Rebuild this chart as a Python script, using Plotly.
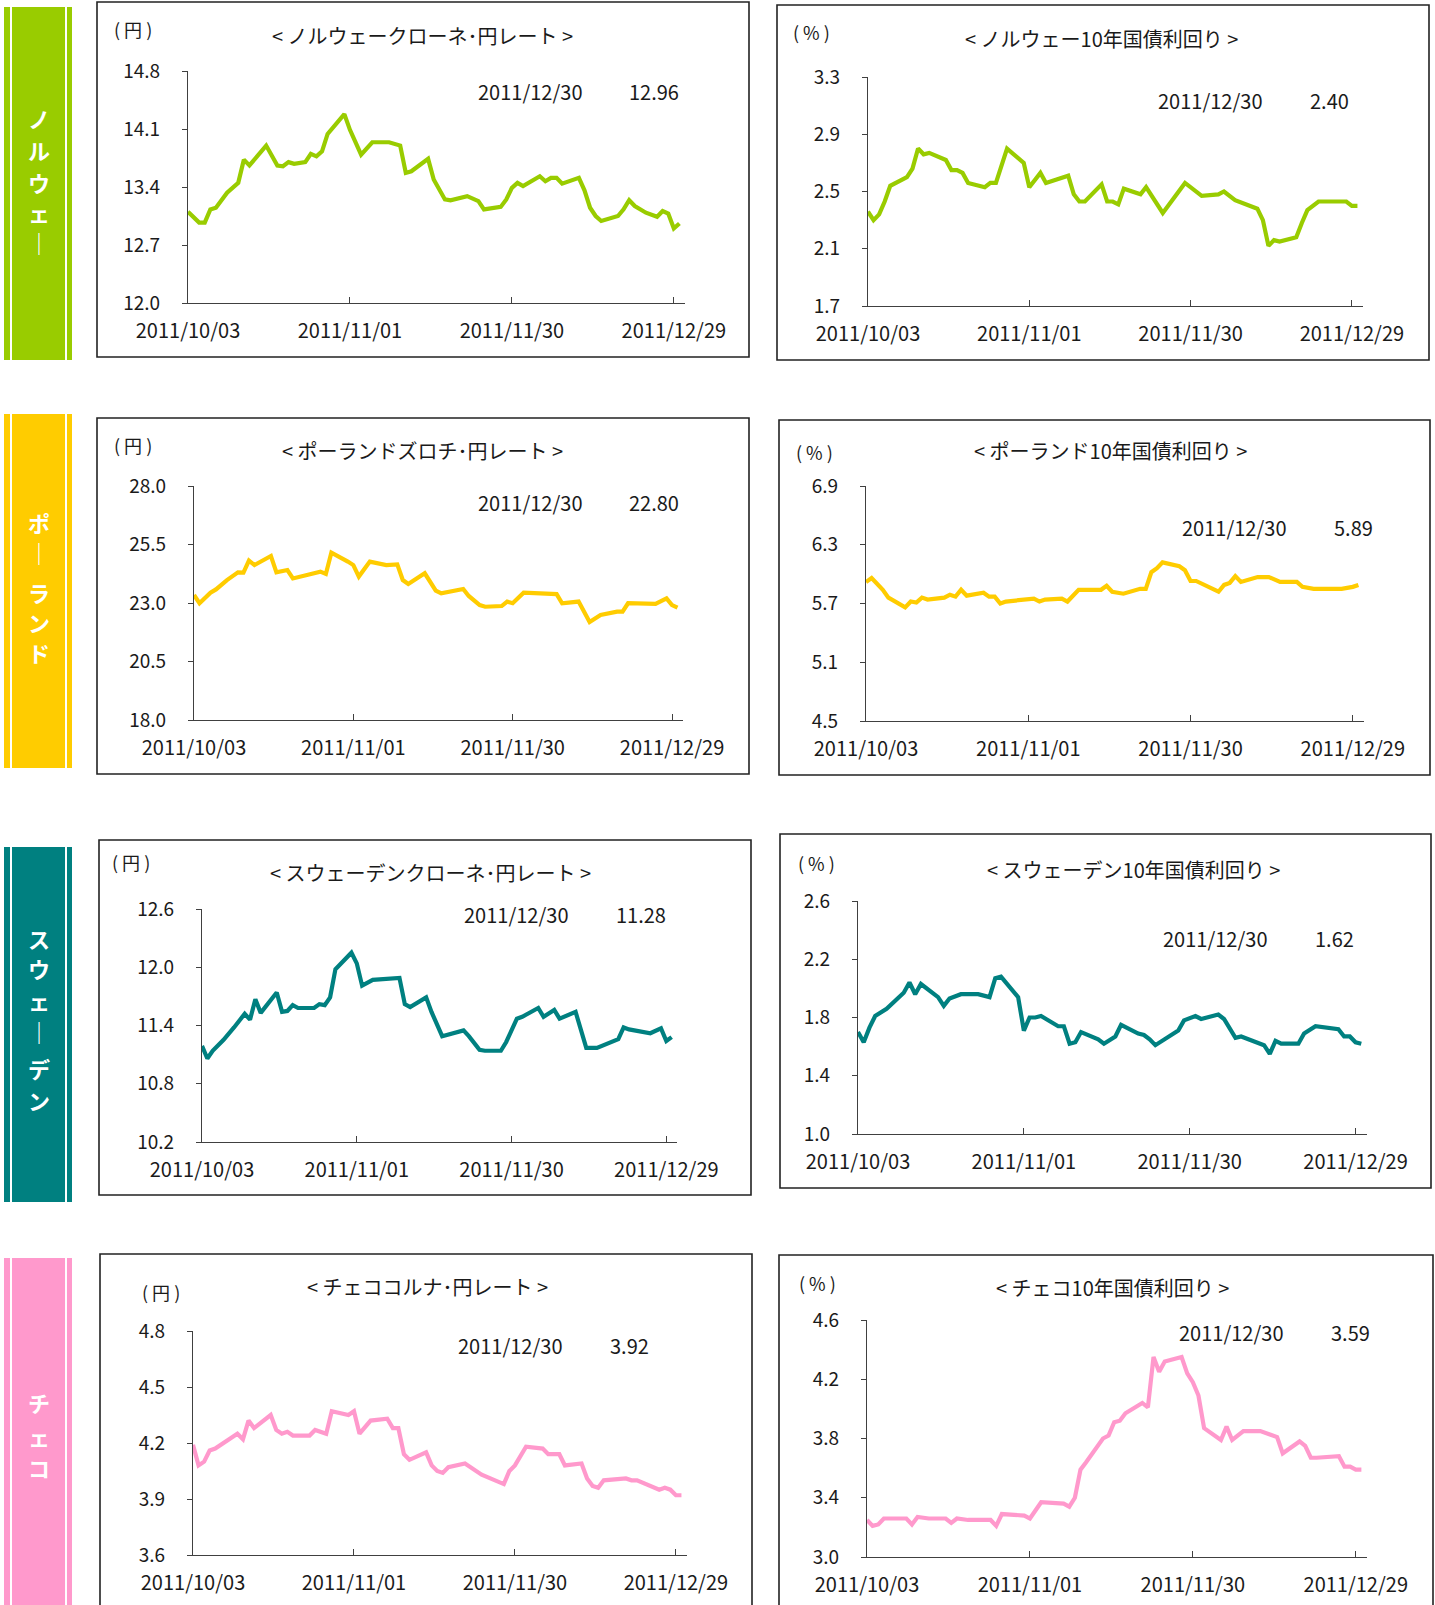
import pandas as pd
import plotly.graph_objects as go

# ── Page / theme ────────────────────────────────────────────────────────────
W, H = 1435, 1605
FONT = "Noto Sans CJK JP"
TXT_CLR = "#1a1a1a"
AXIS_CLR = "#404040"
GREEN, YELLOW, TEAL, PINK = "#99CC00", "#FFCC00", "#008080", "#FF99CC"

START = pd.Timestamp("2011-10-03")
END = pd.Timestamp("2011-12-31")
TICK_DATES = ["2011-10-03", "2011-11-01", "2011-11-30", "2011-12-29"]
TICK_TEXT = ["2011/10/03", "2011/11/01", "2011/11/30", "2011/12/29"]
LAST_DATE = "2011/12/30"

# ── Data (x = days since 2011/10/03) ────────────────────────────────────────
NOK_DAYS = [0, 2, 3, 4, 5, 7, 9, 10, 11, 14, 16, 17, 18, 19, 21, 22, 23, 24, 25, 28,
            29, 31, 33, 36, 38, 39, 40, 43, 44, 46, 47, 50, 52, 53, 56, 57, 58, 59, 60, 63,
            64, 65, 66, 67, 70, 71, 72, 73, 74, 77, 78, 79, 80, 82, 84, 85, 86, 87, 88]
NOK_JPY = [13.10, 12.97, 12.97, 13.13, 13.15, 13.33, 13.45, 13.73, 13.66, 13.90,
           13.66, 13.65, 13.70, 13.68, 13.70, 13.80, 13.77, 13.83, 14.04, 14.28,
           14.09, 13.79, 13.94, 13.94, 13.90, 13.57, 13.59, 13.74, 13.49, 13.25,
           13.24, 13.29, 13.23, 13.13, 13.16, 13.25, 13.39, 13.45, 13.41, 13.53,
           13.47, 13.51, 13.51, 13.44, 13.51, 13.36, 13.15, 13.05, 12.99, 13.05,
           13.13, 13.24, 13.17, 13.09, 13.04, 13.11, 13.08, 12.90, 12.96]
NOK_JPY_TICKS = [12.0, 12.7, 13.4, 14.1, 14.8]

NOR_BOND_DAYS = [0, 1, 2, 3, 4, 7, 8, 9, 10, 11, 14, 15, 16, 17, 18, 21, 22, 23, 25, 28,
                 29, 31, 32, 36, 37, 38, 39, 42, 43, 44, 45, 46, 49, 50, 53, 57, 60, 63, 64, 66,
                 70, 71, 72, 73, 74, 77, 78, 79, 81, 84, 86, 87, 88]
NOR_BOND = [2.36, 2.30, 2.34, 2.43, 2.54, 2.60, 2.66, 2.80, 2.76, 2.77,
            2.72, 2.65, 2.65, 2.63, 2.56, 2.53, 2.56, 2.56, 2.80, 2.70,
            2.53, 2.63, 2.56, 2.61, 2.48, 2.43, 2.43, 2.55, 2.43, 2.43,
            2.41, 2.52, 2.48, 2.53, 2.35, 2.56, 2.47, 2.48, 2.50, 2.44,
            2.38, 2.30, 2.12, 2.16, 2.15, 2.18, 2.28, 2.37, 2.43, 2.43,
            2.43, 2.40, 2.40]
NOR_BOND_TICKS = [1.7, 2.1, 2.5, 2.9, 3.3]

PLN_DAYS = [0, 1, 3, 4, 6, 8, 9, 10, 11, 14, 15, 17, 18, 22, 23, 24, 25, 28, 29, 30,
            32, 35, 37, 38, 39, 42, 44, 45, 49, 50, 52, 53, 56, 57, 58, 60, 66, 67, 70, 72,
            74, 77, 78, 79, 84, 86, 87, 88]
PLN_JPY = [23.34, 22.99, 23.44, 23.58, 23.98, 24.31, 24.30, 24.81, 24.62, 25.01,
           24.31, 24.41, 24.05, 24.27, 24.34, 24.24, 25.15, 24.77, 24.62, 24.13,
           24.77, 24.62, 24.65, 23.98, 23.81, 24.27, 23.53, 23.41, 23.60, 23.30,
           22.91, 22.84, 22.87, 23.06, 22.99, 23.44, 23.38, 22.99, 23.06, 22.19,
           22.49, 22.63, 22.63, 22.99, 22.96, 23.20, 22.91, 22.80]
PLN_JPY_TICKS = [18.0, 20.5, 23.0, 25.5, 28.0]

POL_BOND_DAYS = [0, 1, 3, 4, 7, 8, 9, 10, 11, 14, 15, 16, 17, 18, 21, 22, 23, 24, 25, 30,
                 31, 32, 35, 36, 38, 42, 43, 44, 46, 49, 50, 51, 52, 53, 56, 57, 58, 59, 63, 64,
                 65, 66, 67, 70, 72, 74, 77, 78, 80, 85, 87, 88]
POL_BOND = [5.92, 5.96, 5.84, 5.76, 5.66, 5.72, 5.71, 5.76, 5.74, 5.76,
            5.79, 5.77, 5.84, 5.78, 5.81, 5.77, 5.77, 5.70, 5.72, 5.75,
            5.72, 5.74, 5.75, 5.72, 5.84, 5.84, 5.88, 5.82, 5.80, 5.85,
            5.85, 6.02, 6.06, 6.12, 6.08, 6.04, 5.93, 5.93, 5.82, 5.89,
            5.91, 5.98, 5.92, 5.97, 5.97, 5.92, 5.92, 5.87, 5.85, 5.85,
            5.87, 5.89]
POL_BOND_TICKS = [4.5, 5.1, 5.7, 6.3, 6.9]

SEK_DAYS = [0, 1, 2, 4, 6, 8, 9, 10, 11, 14, 15, 16, 17, 18, 21, 22, 23, 24, 25, 28,
            29, 30, 32, 37, 38, 39, 42, 43, 45, 47, 49, 50, 52, 53, 56, 57, 59, 60, 63, 64,
            66, 67, 70, 72, 74, 78, 79, 80, 84, 86, 87, 88]
SEK_JPY = [11.19, 11.06, 11.14, 11.25, 11.38, 11.52, 11.46, 11.67, 11.53, 11.74,
           11.54, 11.55, 11.61, 11.58, 11.58, 11.62, 11.61, 11.69, 11.98, 12.15,
           12.04, 11.81, 11.87, 11.89, 11.62, 11.59, 11.69, 11.54, 11.29, 11.32,
           11.35, 11.29, 11.15, 11.14, 11.14, 11.23, 11.47, 11.49, 11.58, 11.49,
           11.56, 11.47, 11.54, 11.17, 11.17, 11.26, 11.38, 11.36, 11.32, 11.37,
           11.24, 11.28]
SEK_JPY_TICKS = [10.2, 10.8, 11.4, 12.0, 12.6]

SWE_BOND_DAYS = [0, 1, 2, 3, 5, 8, 9, 10, 11, 14, 15, 16, 18, 21, 23, 24, 25, 28, 29, 30,
                 31, 32, 35, 36, 37, 38, 39, 42, 43, 45, 46, 49, 50, 51, 52, 56, 57, 59, 60, 63,
                 64, 66, 67, 70, 71, 72, 73, 74, 77, 78, 80, 84, 85, 86, 87, 88]
SWE_BOND = [1.70, 1.63, 1.73, 1.81, 1.86, 1.97, 2.04, 1.96, 2.03, 1.94,
            1.88, 1.93, 1.96, 1.96, 1.94, 2.07, 2.08, 1.94, 1.71, 1.80,
            1.80, 1.81, 1.74, 1.74, 1.62, 1.63, 1.70, 1.65, 1.62, 1.67,
            1.75, 1.69, 1.68, 1.65, 1.61, 1.71, 1.78, 1.81, 1.79, 1.82,
            1.79, 1.66, 1.67, 1.62, 1.61, 1.55, 1.64, 1.62, 1.62, 1.69,
            1.74, 1.72, 1.67, 1.67, 1.63, 1.62]
SWE_BOND_TICKS = [1.0, 1.4, 1.8, 2.2, 2.6]

CZK_DAYS = [0, 1, 2, 3, 4, 8, 9, 10, 11, 14, 15, 16, 17, 18, 21, 22, 24, 25, 28, 29,
            30, 32, 35, 36, 37, 38, 39, 42, 43, 44, 45, 46, 49, 52, 56, 57, 58, 60, 63, 64,
            66, 67, 70, 71, 72, 73, 74, 77, 78, 79, 80, 84, 85, 86, 87, 88]
CZK_JPY = [4.19, 4.08, 4.10, 4.16, 4.17, 4.25, 4.22, 4.32, 4.28, 4.35,
           4.27, 4.25, 4.26, 4.24, 4.24, 4.27, 4.25, 4.37, 4.35, 4.37,
           4.25, 4.32, 4.33, 4.28, 4.28, 4.14, 4.11, 4.15, 4.08, 4.05,
           4.04, 4.07, 4.09, 4.03, 3.98, 4.05, 4.08, 4.18, 4.17, 4.14,
           4.14, 4.08, 4.09, 4.01, 3.97, 3.96, 4.00, 4.01, 4.01, 4.00,
           4.00, 3.95, 3.96, 3.95, 3.92, 3.92]
CZK_JPY_TICKS = [3.6, 3.9, 4.2, 4.5, 4.8]

CZE_BOND_DAYS = [0, 1, 2, 3, 7, 8, 9, 11, 14, 15, 16, 18, 22, 23, 24, 28, 29, 31, 35, 36,
                 37, 38, 39, 42, 43, 44, 45, 46, 49, 50, 51, 52, 53, 56, 57, 58, 59, 60, 63, 64,
                 65, 67, 70, 72, 73, 74, 77, 78, 79, 80, 84, 85, 86, 87, 88]
CZE_BOND = [3.25, 3.21, 3.22, 3.26, 3.26, 3.22, 3.27, 3.26, 3.26, 3.23,
            3.26, 3.25, 3.25, 3.21, 3.29, 3.28, 3.26, 3.37, 3.36, 3.34,
            3.40, 3.59, 3.64, 3.80, 3.82, 3.91, 3.92, 3.97, 4.04, 4.01,
            4.35, 4.25, 4.32, 4.35, 4.24, 4.18, 4.09, 3.87, 3.79, 3.88,
            3.79, 3.85, 3.85, 3.82, 3.81, 3.70, 3.78, 3.75, 3.67, 3.67,
            3.68, 3.61, 3.61, 3.59, 3.59]
CZE_BOND_TICKS = [3.0, 3.4, 3.8, 4.2, 4.6]


# ── Layout helpers (pixel -> paper) ─────────────────────────────────────────
def fx(x):
    return x / W


def fy(y):
    return 1 - y / H


# box = panel frame, plot = axis area (x0, y0, x1, y1) in page pixels
PANELS = [
    dict(days=NOK_DAYS, vals=NOK_JPY, ticks=NOK_JPY_TICKS, color=GREEN, unit="( 円 )",
         title="< ノルウェークローネ･円レート >", last="12.96",
         box=(97, 2, 749, 357), plot=(188, 71, 685, 303),
         unit_xy=(133, 29), title_xy=(423, 35), ann_y=91, date_x=476, val_x=627),
    dict(days=NOR_BOND_DAYS, vals=NOR_BOND, ticks=NOR_BOND_TICKS, color=GREEN, unit="( % )",
         title="< ノルウェー10年国債利回り >", last="2.40",
         box=(777, 5, 1429, 360), plot=(868, 77, 1363, 306),
         unit_xy=(812, 32), title_xy=(1101, 39), ann_y=101, date_x=1156, val_x=1308),
    dict(days=PLN_DAYS, vals=PLN_JPY, ticks=PLN_JPY_TICKS, color=YELLOW, unit="( 円 )",
         title="< ポーランドズロチ･円レート >", last="22.80",
         box=(97, 418, 749, 774), plot=(194, 486, 683, 720),
         unit_xy=(133, 445), title_xy=(423, 451), ann_y=502, date_x=476, val_x=627),
    dict(days=POL_BOND_DAYS, vals=POL_BOND, ticks=POL_BOND_TICKS, color=YELLOW, unit="( % )",
         title="< ポーランド10年国債利回り >", last="5.89",
         box=(779, 420, 1430, 775), plot=(866, 486, 1364, 721),
         unit_xy=(814, 452), title_xy=(1110, 451), ann_y=527, date_x=1180, val_x=1332),
    dict(days=SEK_DAYS, vals=SEK_JPY, ticks=SEK_JPY_TICKS, color=TEAL, unit="( 円 )",
         title="< スウェーデンクローネ･円レート >", last="11.28",
         box=(99, 840, 751, 1195), plot=(202, 909, 677, 1142),
         unit_xy=(131, 862), title_xy=(430, 872), ann_y=914, date_x=462, val_x=614),
    dict(days=SWE_BOND_DAYS, vals=SWE_BOND, ticks=SWE_BOND_TICKS, color=TEAL, unit="( % )",
         title="< スウェーデン10年国債利回り >", last="1.62",
         box=(780, 834, 1431, 1188), plot=(858, 901, 1367, 1134),
         unit_xy=(816, 863), title_xy=(1133, 870), ann_y=938, date_x=1161, val_x=1313),
    dict(days=CZK_DAYS, vals=CZK_JPY, ticks=CZK_JPY_TICKS, color=PINK, unit="( 円 )",
         title="< チェココルナ･円レート >", last="3.92",
         box=(100, 1254, 752, 1650), plot=(193, 1331, 687, 1555),
         unit_xy=(161, 1292), title_xy=(427, 1286), ann_y=1345, date_x=456, val_x=608),
    dict(days=CZE_BOND_DAYS, vals=CZE_BOND, ticks=CZE_BOND_TICKS, color=PINK, unit="( % )",
         title="< チェコ10年国債利回り >", last="3.59",
         box=(779, 1255, 1433, 1650), plot=(867, 1320, 1367, 1557),
         unit_xy=(817, 1283), title_xy=(1112, 1287), ann_y=1332, date_x=1177, val_x=1329),
]

# side bands: colour, top, bottom, characters of the vertical label and their centre y
BANDS = [
    (GREEN, 7, 360, "ノルウェ｜", [118, 150, 182, 212, 242]),
    (YELLOW, 414, 768, "ポ｜ランド", [522, 552, 592, 622, 652]),
    (TEAL, 847, 1202, "スウェ｜デン", [938, 968, 1000, 1031, 1068, 1100]),
    (PINK, 1258, 1650, "チェコ", [1402, 1436, 1467]),
]

fig = go.Figure()
shapes, annotations = [], []
axes = {}

for i, p in enumerate(PANELS, start=1):
    sfx = "" if i == 1 else str(i)
    xs = [START + pd.Timedelta(days=d) for d in p["days"]]
    fig.add_trace(go.Scatter(
        x=xs, y=p["vals"], mode="lines",
        line=dict(color=p["color"], width=4.2),
        xaxis=f"x{sfx}", yaxis=f"y{sfx}",
        showlegend=False, hoverinfo="skip",
    ))
    x0, y0, x1, y1 = p["plot"]
    axes[f"xaxis{sfx}"] = dict(
        domain=[fx(x0), fx(x1)], anchor=f"y{sfx}", type="date",
        range=[START, END], tickvals=TICK_DATES, ticktext=TICK_TEXT,
        ticks="inside", ticklen=6, tickwidth=1, tickcolor=AXIS_CLR,
        showline=True, linecolor=AXIS_CLR, linewidth=1.2,
        showgrid=False, zeroline=False, ticklabelstandoff=10, automargin=False,
        tickfont=dict(size=20, color=TXT_CLR),
    )
    axes[f"yaxis{sfx}"] = dict(
        domain=[fy(y1), fy(y0)], anchor=f"x{sfx}",
        range=[p["ticks"][0], p["ticks"][-1]],
        tickvals=p["ticks"], ticktext=[f"{v:.1f}" for v in p["ticks"]],
        ticks="outside", ticklen=5, tickwidth=1, tickcolor=AXIS_CLR,
        showline=True, linecolor=AXIS_CLR, linewidth=1.2,
        showgrid=False, zeroline=False, ticklabelstandoff=18, automargin=False,
        tickfont=dict(size=19, color=TXT_CLR),
    )

    bx0, by0, bx1, by1 = p["box"]
    shapes.append(dict(type="rect", xref="paper", yref="paper",
                       x0=fx(bx0), x1=fx(bx1), y0=fy(by1), y1=fy(by0),
                       line=dict(color="#222222", width=1.6), fillcolor="rgba(0,0,0,0)"))

    ux, uy = p["unit_xy"]
    tx, ty = p["title_xy"]
    annotations += [
        dict(x=fx(ux), y=fy(uy), text=p["unit"], font=dict(size=18, color=TXT_CLR)),
        dict(x=fx(tx), y=fy(ty), text=p["title"], font=dict(size=20, color=TXT_CLR)),
        dict(x=fx(p["date_x"]), y=fy(p["ann_y"]), text=LAST_DATE, xanchor="left",
             font=dict(size=20, color=TXT_CLR)),
        dict(x=fx(p["val_x"]), y=fy(p["ann_y"]), text=p["last"], xanchor="left",
             font=dict(size=20, color=TXT_CLR)),
    ]

for color, top, bottom, label, ys in BANDS:
    shapes.append(dict(type="rect", xref="paper", yref="paper", layer="below",
                       x0=fx(4), x1=fx(72), y0=fy(bottom), y1=fy(top),
                       line=dict(width=0), fillcolor=color))
    for lx in (11, 66):
        shapes.append(dict(type="line", xref="paper", yref="paper",
                           x0=fx(lx), x1=fx(lx), y0=fy(bottom), y1=fy(top),
                           line=dict(color="white", width=2)))
    for ch, cy in zip(label, ys):
        annotations.append(dict(x=fx(39), y=fy(cy), text=f"<b>{ch}</b>",
                                font=dict(size=22, color="white")))

for a in annotations:
    a.update(xref="paper", yref="paper", showarrow=False)
    a.setdefault("xanchor", "center")
    a.setdefault("yanchor", "middle")

fig.update_layout(
    width=W, height=H,
    margin=dict(l=0, r=0, t=0, b=0, pad=0, autoexpand=False),
    paper_bgcolor="white", plot_bgcolor="white",
    font=dict(family=FONT, color=TXT_CLR),
    shapes=shapes, annotations=annotations,
    showlegend=False,
    **axes,
)

# the page's default 8px body margin would shift the whole figure
fig.write_html("out.html", config={"displayModeBar": False},
               post_script="document.body.style.margin='0';")
